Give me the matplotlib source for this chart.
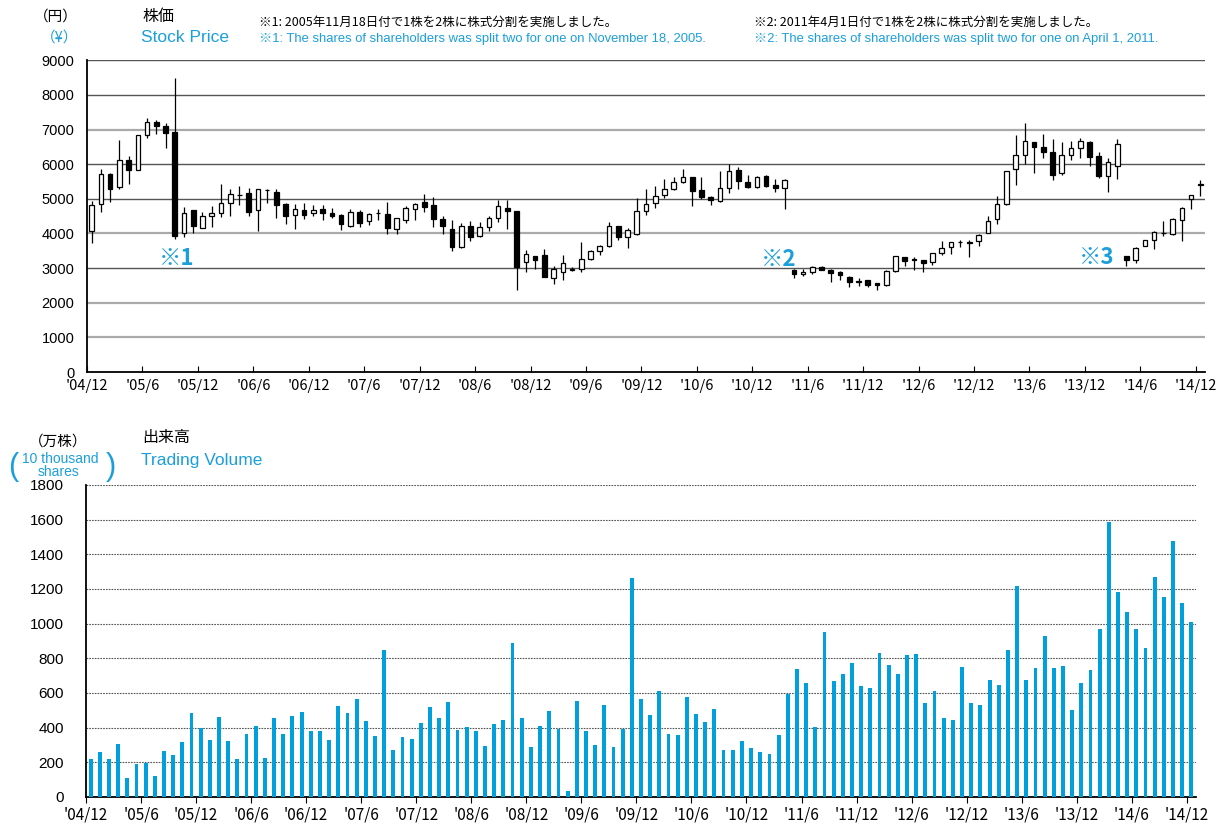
import numpy as np
import matplotlib
matplotlib.use("Agg")
import matplotlib.pyplot as plt

plt.rcParams['font.family'] = ['Liberation Sans', 'Noto Sans CJK JP', 'DejaVu Sans']

BLUE = '#1a9fdc'
BAR = '#00a0dc'

# monthly candles, '04/12 .. '14/12
open_ = np.array([4060, 4850, 5730, 5330, 6110, 5830, 6840, 7230, 7090, 6930,
                  4000, 4680, 4170, 4490, 4590, 4880, 5120, 5160, 4680, 5260,
                  5190, 4850, 4540, 4680, 4590, 4710, 4580, 4540, 4230, 4620,
                  4350, 4580, 4570, 4130, 4380, 4700, 4920, 4810, 4430, 4130,
                  3600, 4220, 3940, 4180, 4440, 4730, 4650, 3190, 3340, 3390,
                  2710, 2880, 2950, 2980, 3270, 3480, 3630, 4220, 3890, 3980,
                  4660, 4880, 5100, 5280, 5500, 5620, 5260, 5060, 4940, 5310,
                  5840, 5500, 5330, 5660, 5400, 5310, 2950, 2840, 2880, 3020,
                  2950, 2900, 2740, 2600, 2660, 2570, 2520, 2930, 3320, 3270,
                  3220, 3190, 3430, 3610, 3740, 3750, 3770, 4010, 4410, 4850,
                  5870, 6270, 6640, 6490, 6340, 5740, 6270, 6460, 6650, 6240,
                  5660, 5960, 3360, 3220, 3640, 3820, 4000, 3990, 4390, 5000,
                  5440])
high = np.array([4930, 5870, 5740, 6700, 6240, 6850, 7330, 7280, 7180, 8500,
                 4760, 4690, 4610, 4800, 5420, 5290, 5360, 5310, 5290, 5290,
                 5280, 4880, 4850, 4890, 4830, 4820, 4730, 4550, 4700, 4680,
                 4590, 4710, 4900, 4450, 4780, 4890, 5140, 5040, 4490, 4380,
                 4300, 4370, 4330, 4490, 4970, 4970, 4660, 3530, 3340, 3560,
                 3050, 3370, 3020, 3740, 3530, 3670, 4320, 4230, 4150, 5020,
                 5270, 5360, 5580, 5640, 5860, 5620, 5640, 5090, 5790, 6000,
                 5910, 5690, 5650, 5690, 5570, 5560, 2960, 2980, 3050, 3050,
                 2960, 2920, 2760, 2710, 2670, 2570, 2950, 3360, 3320, 3320,
                 3230, 3440, 3770, 3760, 3820, 3800, 3990, 4490, 5090, 5800,
                 6850, 7180, 6640, 6870, 6720, 6640, 6670, 6750, 6670, 6350,
                 6170, 6730, 3360, 3600, 3800, 4080, 4350, 4460, 4750, 5120,
                 5550])
low = np.array([3720, 4620, 4920, 5280, 5420, 5820, 6750, 6880, 6480, 3850,
                3910, 4010, 4150, 4200, 4470, 4510, 4810, 4490, 4060, 4880,
                4440, 4270, 4130, 4420, 4490, 4380, 4440, 4090, 4200, 4200,
                4250, 4380, 3990, 3990, 4300, 4380, 4610, 4180, 3990, 3500,
                3580, 3770, 3890, 4060, 4320, 4130, 2360, 2890, 2970, 2740,
                2540, 2660, 2930, 2900, 3240, 3370, 3610, 3820, 3580, 3960,
                4530, 4730, 5020, 5260, 5450, 4780, 4990, 4830, 4920, 5180,
                5290, 5310, 5310, 5330, 5190, 4700, 2710, 2780, 2840, 2950,
                2590, 2650, 2450, 2470, 2450, 2380, 2470, 2890, 3050, 2950,
                2890, 3100, 3370, 3400, 3610, 3320, 3640, 4010, 4280, 4810,
                5400, 6000, 5740, 6190, 5550, 5690, 6110, 6170, 5960, 5600,
                5210, 5580, 3050, 3160, 3630, 3560, 3940, 3960, 3770, 4710,
                5070])
close = np.array([4810, 5730, 5280, 6110, 5830, 6840, 7210, 7110, 6910, 3940,
                  4590, 4230, 4510, 4590, 4880, 5140, 5100, 4620, 5280, 5250,
                  4830, 4490, 4710, 4520, 4670, 4590, 4490, 4280, 4610, 4300,
                  4560, 4590, 4150, 4440, 4730, 4860, 4750, 4420, 4230, 3600,
                  4230, 3910, 4180, 4440, 4780, 4660, 3020, 3400, 3240, 2740,
                  2980, 3140, 2960, 3270, 3480, 3630, 4220, 3890, 4090, 4650,
                  4850, 5070, 5290, 5480, 5640, 5240, 5040, 4970, 5310, 5790,
                  5520, 5330, 5640, 5360, 5310, 5550, 2830, 2900, 3020, 2950,
                  2860, 2790, 2600, 2630, 2500, 2500, 2930, 3340, 3210, 3230,
                  3140, 3430, 3580, 3750, 3750, 3730, 3960, 4350, 4850, 5790,
                  6270, 6670, 6490, 6340, 5690, 6270, 6460, 6670, 6200, 5660,
                  6060, 6580, 3220, 3580, 3800, 4040, 4010, 4410, 4730, 5100,
                  5390])

# monthly volume (10 thousand shares)
volume = np.array([217, 262, 219, 306, 110, 192, 194, 123, 267, 244,
                   317, 483, 398, 327, 462, 321, 221, 362, 408, 225,
                   454, 363, 467, 492, 381, 379, 329, 527, 483, 567,
                   437, 352, 848, 273, 344, 335, 429, 521, 458, 550,
                   388, 402, 379, 292, 421, 444, 888, 456, 290, 410,
                   496, 392, 35, 556, 379, 298, 531, 290, 392, 1262,
                   565, 471, 613, 362, 358, 577, 481, 431, 510, 273,
                   269, 323, 281, 262, 248, 358, 594, 738, 656, 402,
                   952, 671, 708, 771, 640, 629, 829, 760, 710, 821,
                   825, 542, 610, 458, 444, 752, 544, 531, 675, 646,
                   850, 1219, 673, 746, 929, 744, 756, 502, 656, 733,
                   971, 1585, 1185, 1069, 967, 862, 1267, 1152, 1475, 1121,
                   1010])

tick_labels = ["'04/12", "'05/6", "'05/12", "'06/6", "'06/12", "'07/6", "'07/12",
               "'08/6", "'08/12", "'09/6", "'09/12", "'10/6", "'10/12", "'11/6",
               "'11/12", "'12/6", "'12/12", "'13/6", "'13/12", "'14/6", "'14/12"]
tick_pos = np.arange(0, 121, 6)
x = np.arange(len(close)) + 0.5

W, H = 1221, 824
fig = plt.figure(figsize=(W / 100, H / 100), dpi=100)


def ftext(px, py, s, **kw):
    fig.text(px / W, 1 - py / H, s, **kw)


# ---- stock price ----
ax1 = fig.add_axes([87 / W, 1 - 372 / H, 1118 / W, 311.7 / H])
for lvl in range(1000, 10000, 1000):
    if lvl in (1000, 2000, 4000, 7000):
        ax1.axhline(lvl, color='#aaaaaa', lw=1.6, zorder=1)
    else:
        ax1.axhline(lvl, color='#555555', lw=1.0, zorder=1)

up = close >= open_
ax1.vlines(x, low, high, color='black', lw=0.9, zorder=2)
ax1.bar(x, np.abs(close - open_), bottom=np.minimum(open_, close), width=0.5,
        color=np.where(up, 'white', 'black'), edgecolor='black', lw=0.9, zorder=3)

ax1.set_xlim(0, 121)
ax1.set_ylim(0, 9000)
ax1.set_xticks(tick_pos)
ax1.set_xticklabels(tick_labels, family=['Noto Sans CJK JP'], fontsize=10.5)
ax1.set_yticks(np.arange(0, 9001, 1000))
ax1.tick_params(axis='x', direction='in', length=4, pad=5, color='black')
ax1.tick_params(axis='y', length=0, pad=9, labelsize=10.5)
for s in ('top', 'right'):
    ax1.spines[s].set_visible(False)
for s in ('left', 'bottom'):
    ax1.spines[s].set_linewidth(1.3)

ax1.text(9.7, 3290, '※1', color=BLUE, fontsize=16, fontweight='bold',
         ha='center', va='center', family=['Noto Sans CJK JP'])
ax1.text(74.9, 3260, '※2', color=BLUE, fontsize=16, fontweight='bold',
         ha='center', va='center', family=['Noto Sans CJK JP'])
ax1.text(109.3, 3320, '※3', color=BLUE, fontsize=16, fontweight='bold',
         ha='center', va='center', family=['Noto Sans CJK JP'])

ftext(142, 17, '株価', fontsize=11.5, va='center', family=['Noto Sans CJK JP'])
ftext(141, 38, 'Stock Price', fontsize=12.5, color=BLUE, va='center')
ftext(78, 17, '（円）', fontsize=10.5, va='center', ha='right', family=['Noto Sans CJK JP'])
ftext(78, 38, '（¥）', fontsize=10.5, va='center', ha='right', color=BLUE,
      family=['Noto Sans CJK JP'])
ftext(259, 22, '※1: 2005年11月18日付で1株を2株に株式分割を実施しました。', fontsize=9,
      va='center', family=['Noto Sans CJK JP'])
ftext(259, 39, '※1: The shares of shareholders was split two for one on November 18, 2005.',
      fontsize=9.4, va='center', color=BLUE, family=['Liberation Sans', 'Noto Sans CJK JP'])
ftext(754, 22, '※2: 2011年4月1日付で1株を2株に株式分割を実施しました。', fontsize=9,
      va='center', family=['Noto Sans CJK JP'])
ftext(754, 39, '※2: The shares of shareholders was split two for one on April 1, 2011.',
      fontsize=9.4, va='center', color=BLUE, family=['Liberation Sans', 'Noto Sans CJK JP'])

# ---- trading volume ----
ax2 = fig.add_axes([86 / W, 1 - 797 / H, 1110 / W, 312 / H])
ax2.bar(x, volume, width=0.42, color=BAR, zorder=3)
ax2.set_xlim(0, 121)
ax2.set_ylim(0, 1800)
ax2.set_yticks(np.arange(0, 1801, 200))
ax2.yaxis.grid(True, linestyle=(0, (1.5, 1)), color='#555555', lw=0.8, zorder=1)
ax2.set_axisbelow(True)
ax2.set_xticks(tick_pos)
ax2.set_xticklabels(tick_labels, family=['Noto Sans CJK JP'], fontsize=11)
ax2.tick_params(axis='x', direction='out', length=4, pad=3, color='black')
ax2.tick_params(axis='y', length=0, pad=16, labelsize=11)
for s in ('top', 'right'):
    ax2.spines[s].set_visible(False)
for s in ('left', 'bottom'):
    ax2.spines[s].set_linewidth(1.3)

ftext(142, 437, '出来高', fontsize=11.5, va='center', family=['Noto Sans CJK JP'])
ftext(141, 460, 'Trading Volume', fontsize=12.5, color=BLUE, va='center')
ftext(58, 442, '（万株）', fontsize=10.5, va='center', ha='center', family=['Noto Sans CJK JP'])
ftext(60, 459, '10 thousand', fontsize=10, va='center', ha='center', color=BLUE)
ftext(59, 472, 'shares', fontsize=10, va='center', ha='center', color=BLUE)
ftext(13, 467, '(', fontsize=22, va='center', ha='center', color=BLUE)
ftext(111, 467, ')', fontsize=22, va='center', ha='center', color=BLUE)

fig.savefig('out.png', dpi=100)
